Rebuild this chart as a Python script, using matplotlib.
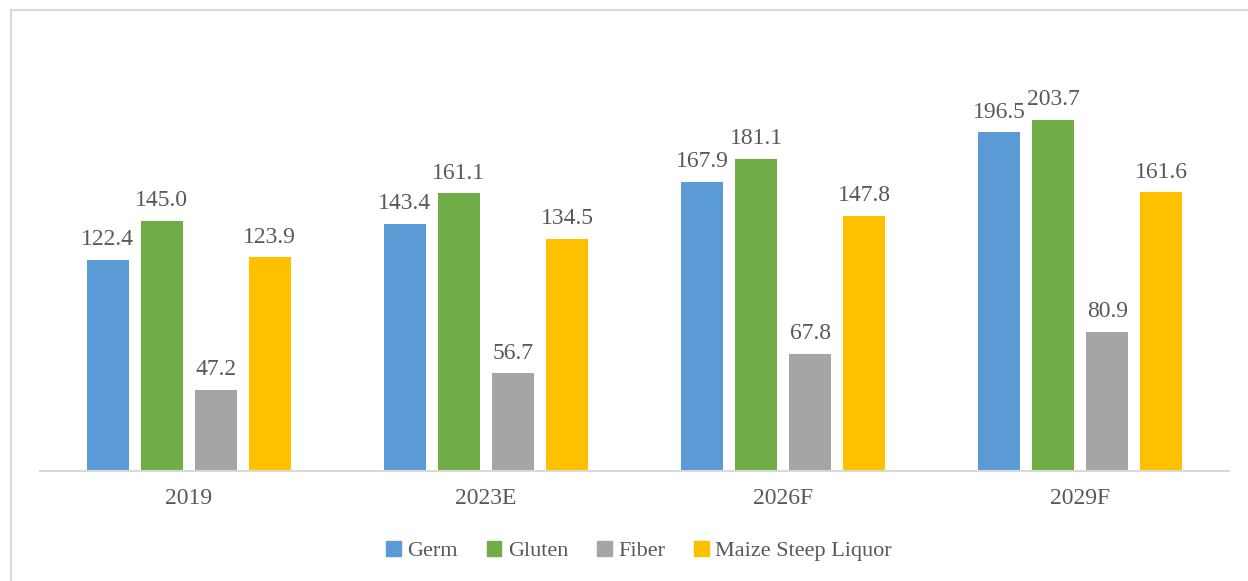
import numpy as np
import matplotlib
matplotlib.use("Agg")
import matplotlib.pyplot as plt
from matplotlib.lines import Line2D
from matplotlib.patches import Rectangle

plt.rcParams['font.family'] = ['Liberation Serif', 'DejaVu Serif']

years = ['2019', '2023E', '2026F', '2029F']
series = ['Germ', 'Gluten', 'Fiber', 'Maize Steep Liquor']
germ = [122.4, 143.4, 167.9, 196.5]
gluten = [145.0, 161.1, 181.1, 203.7]
fiber = [47.2, 56.7, 67.8, 80.9]
maize = [123.9, 134.5, 147.8, 161.6]
colors = ['#5B9BD5', '#70AD47', '#A5A5A5', '#FFC000']
text_col = '#595959'

W, H = 1248, 581
fig = plt.figure(figsize=(W / 100, H / 100), dpi=100)
# light border (left and top edges visible in the reference)
fig.add_artist(Line2D([11 / W, 11 / W], [0, 1 - 10 / H], transform=fig.transFigure,
                      color='#D9D9D9', lw=1.5))
fig.add_artist(Line2D([11 / W, 1], [1 - 10 / H, 1 - 10 / H], transform=fig.transFigure,
                      color='#D9D9D9', lw=1.5))

ax = fig.add_axes([40 / W, 110 / H, 1189 / W, 431 / H])
x = np.arange(len(years))
pitch = 54 / 297
width = 42 / 297
data = [germ, gluten, fiber, maize]
for i, (vals, c) in enumerate(zip(data, colors)):
    pos = x + (i - 1.5) * pitch
    bars = ax.bar(pos, vals, width, color=c, label=series[i], zorder=2)
    for b, v in zip(bars, vals):
        ax.annotate(f'{v:.1f}', (b.get_x() + b.get_width() / 2, v),
                    xytext=(0, 7), textcoords='offset points',
                    ha='center', va='bottom', fontsize=17, color=text_col)

ax.set_xlim(-0.5, len(years) - 0.5)
ax.set_ylim(0, 250)
ax.set_xticks(x)
ax.set_xticklabels(years, fontsize=17, color=text_col)
ax.tick_params(axis='x', length=0, pad=12)
ax.set_yticks([])
for s in ['top', 'right', 'left']:
    ax.spines[s].set_visible(False)
ax.spines['bottom'].set_color('#D9D9D9')
ax.spines['bottom'].set_linewidth(1.5)

handles = [Rectangle((0, 0), 1, 1, color=c) for c in colors]
leg = fig.legend(handles, series, loc='center', bbox_to_anchor=(639 / W, 1 - 551 / H),
                 ncol=4, frameon=False, fontsize=16, handlelength=0.65, handleheight=0.65,
                 handletextpad=0.3, columnspacing=1.3)
for t in leg.get_texts():
    t.set_color(text_col)

fig.savefig('out.png', dpi=100)
